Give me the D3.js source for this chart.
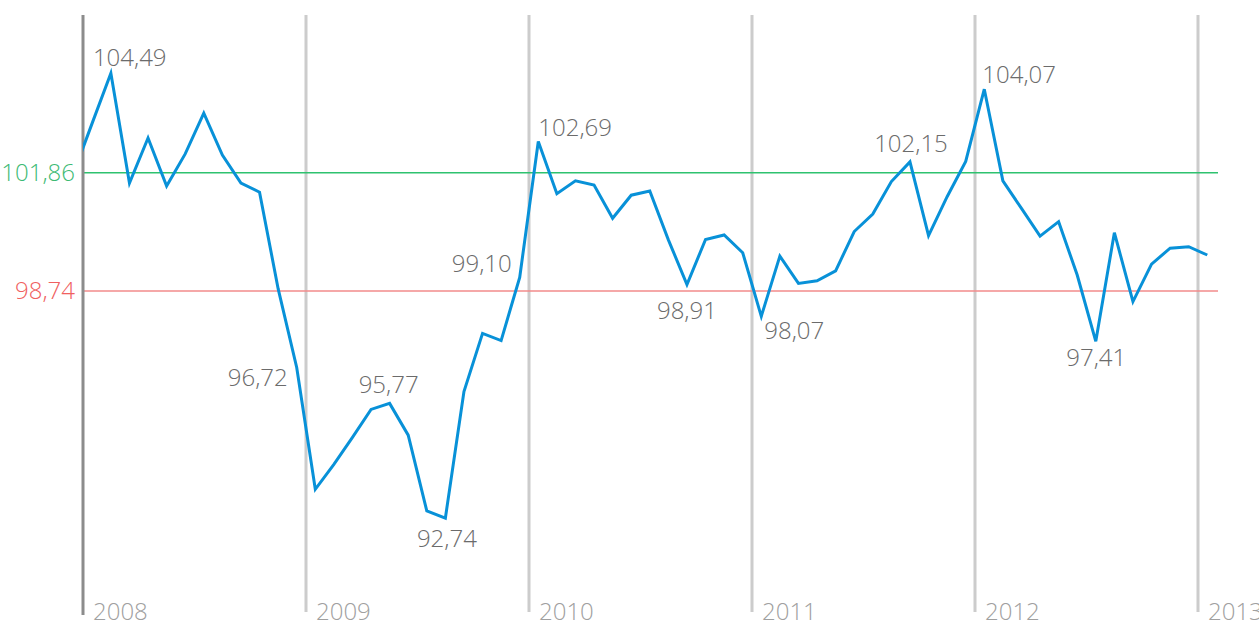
<!DOCTYPE html>
<html>
<head>
<meta charset="utf-8">
<script src="https://cdn.jsdelivr.net/npm/d3@7"></script>
<style>
  body { margin: 0; background: #fff; }
  svg text { font-family: "Open Sans", "Noto Sans", sans-serif; font-weight: 300; }
</style>
</head>
<body>
<svg id="chart" width="1259" height="623"></svg>
<script>
// Monthly index values, Dec 2007 .. Jan 2013
var years = [2008, 2009, 2010, 2011, 2012, 2013];
var dec2007 = [101.86];
var values2008 = [103.18, 104.49, 101.59, 102.78, 101.51, 102.36, 103.44, 102.33, 101.59, 101.35, 98.80, 96.72];
var values2009 = [93.50, 94.16, 94.87, 95.61, 95.77, 94.93, 92.93, 92.74, 96.08, 97.62, 97.43, 99.10];
var values2010 = [102.69, 101.31, 101.65, 101.54, 100.66, 101.27, 101.38, 100.09, 98.91, 100.10, 100.22, 99.75];
var values2011 = [98.07, 99.66, 98.94, 99.01, 99.27, 100.31, 100.77, 101.63, 102.15, 100.20, 101.23, 102.16];
var values2012 = [104.07, 101.65, 100.92, 100.19, 100.57, 99.16, 97.41, 100.28, 98.46, 99.45, 99.87, 99.91];
var values2013 = [99.69];

// Reference levels
var upperLevel = 101.86;
var lowerLevel = 98.74;

// Annotated points: month index (0 = Jan 2008)
var labelIndex = [1, 11, 16, 19, 23, 24, 32, 36, 44, 48, 54];

var series = dec2007.concat(values2008, values2009, values2010, values2011, values2012, values2013)
    .map(function (v, i) { return { m: i - 1, v: v }; });

var fmt = d3.formatLocale({ decimal: ",", thousands: " ", grouping: [3], currency: ["", ""] }).format(".2f");

var svg = d3.select("#chart");
var plotLeft = 83, plotRight = 1198, plotTop = 15, plotBottom = 615;

var x = d3.scaleLinear().domain([0, 60]).range([plotLeft, plotRight]);
var y = d3.scaleLinear().domain([90.18, 106.03]).range([plotBottom, plotTop]);

// clip so the line starts at the axis
svg.append("clipPath").attr("id", "plot")
    .append("rect")
    .attr("x", plotLeft).attr("y", 0)
    .attr("width", 1259 - plotLeft).attr("height", 623);

// year grid lines
svg.selectAll(".year-line")
    .data(years.slice(1))
    .enter()
    .append("line")
    .attr("x1", function (d) { return x((d - 2008) * 12); })
    .attr("x2", function (d) { return x((d - 2008) * 12); })
    .attr("y1", plotTop)
    .attr("y2", plotBottom - 3)
    .style("stroke", "#cccccc")
    .style("stroke-width", 3);

// year labels
svg.selectAll(".year-label")
    .data(years)
    .enter()
    .append("text")
    .attr("x", function (d) { return x((d - 2008) * 12) + 10; })
    .attr("y", 620)
    .style("font-size", "24px")
    .style("fill", "#a0a0a0")
    .text(function (d) { return d; });

// reference lines
function refLine(value, lineColor, textColor) {
    svg.append("line")
        .attr("x1", plotLeft)
        .attr("x2", plotRight + 20)
        .attr("y1", y(value))
        .attr("y2", y(value))
        .style("stroke", lineColor)
        .style("stroke-width", 1.5);

    svg.append("text")
        .attr("x", plotLeft - 8)
        .attr("y", y(value) + 8.5)
        .attr("text-anchor", "end")
        .style("font-size", "24px")
        .style("fill", textColor)
        .text(fmt(value));
}
refLine(upperLevel, "#2ec26f", "#3dba74");
refLine(lowerLevel, "#f28b8b", "#f06060");

// left axis
svg.append("line")
    .attr("x1", plotLeft).attr("x2", plotLeft)
    .attr("y1", plotTop).attr("y2", plotBottom)
    .style("stroke", "#8c8c8c")
    .style("stroke-width", 3);

// the series line
var line = d3.line()
    .x(function (d) { return x(d.m + 0.5); })
    .y(function (d) { return y(d.v); });

svg.append("path")
    .datum(series)
    .attr("clip-path", "url(#plot)")
    .attr("d", line)
    .style("fill", "none")
    .style("stroke", "#0891d8")
    .style("stroke-width", 3)
    .style("stroke-linejoin", "miter");

// value labels: anchor and offset per label
var labelAnchor = ["start", "end", "middle", "middle", "end", "start", "middle", "start", "middle", "start", "middle"];
var labelDx = [-18, -9, -1, 1.5, -8, 0, 0, 3, 1, -2, 0.5];
var labelDy = [-7.5, 19, -10.5, 28.5, -5.5, -5.5, 34.5, 23, -10, -6.5, 24.5];

labelIndex.forEach(function (m, i) {
    var d = series[m + 1];
    svg.append("text")
        .attr("x", x(d.m + 0.5) + labelDx[i])
        .attr("y", y(d.v) + labelDy[i])
        .attr("text-anchor", labelAnchor[i])
        .style("font-size", "24px")
        .style("fill", "#6b6b6b")
        .text(fmt(d.v));
});
</script>
</body>
</html>
